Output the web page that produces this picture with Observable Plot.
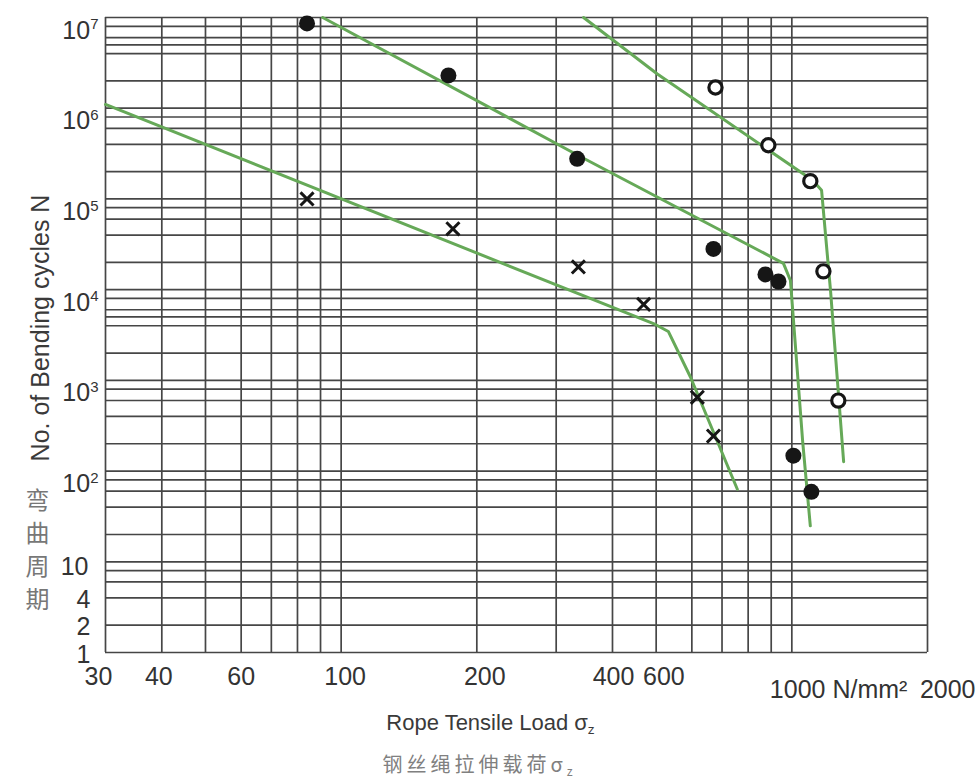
<!DOCTYPE html>
<html>
<head>
<meta charset="utf-8">
<script src="https://cdn.jsdelivr.net/npm/d3@7"></script>
<script src="https://cdn.jsdelivr.net/npm/@observablehq/plot@0.6"></script>
<style>
  body { margin: 0; background: #fff; }
  #chart svg { display: block; }
</style>
</head>
<body>
<div id="chart"></div>
<script>
// ---------- data ----------
const xGrid = [30, 40, 50, 60, 70, 80, 90, 100, 200, 300, 400, 500, 600, 700, 800, 900, 1000, 2000];
const yGrid = [1, 2, 4, 6, 8, 10, 20, 40, 60, 80, 100, 200, 400, 600, 800,
               1000, 2000, 4000, 5000, 6000, 8000, 1e4, 2e4, 4e4, 6e4, 8e4,
               1e5, 2e5, 4e5, 6e5, 8e5, 1e6, 2e6, 4e6, 5e6, 6e6, 8e6, 1e7];

const xTicksMain = [30, 40, 60, 100, 200, 400, 600];
const yTicksPow = [1e2, 1e3, 1e4, 1e5, 1e6, 1e7];
const yTicksSmall = [1, 2, 4];
const yTickTen = [10];

const xTitle = "Rope Tensile Load σz";
const xTitleCN = "钢丝绳拉伸载荷σz";
const yTitle = "No. of Bending cycles N";
const yTitleCN = "弯\n曲\n周\n期";

// filled circles
const filledLoad   = [84, 173, 334, 670, 874, 934, 1008, 1105];
const filledCycles = [8.6e6, 2.3e6, 2.77e5, 2.81e4, 1.47e4, 1.23e4, 148, 59];
// open circles
const openLoad   = [677, 887, 1099, 1175, 1268];
const openCycles = [1.69e6, 3.91e5, 1.57e5, 1.59e4, 598];
// crosses
const crossLoad   = [84, 177, 336, 469, 617, 670];
const crossCycles = [1.0e5, 4.68e4, 1.78e4, 6870, 650, 243];

// green fitted curves
const lineALoad   = [30, 498, 532, 596, 757];
const lineACycles = [1.1e6, 4130, 3460, 1082, 63];
const lineBLoad   = [91, 340, 958, 993, 1057, 1099];
const lineBCycles = [1e7, 2.92e5, 1.95e4, 1.26e4, 211, 24.9];
const lineCLoad   = [345, 503, 1112, 1164, 1219, 1303];
const lineCCycles = [1e7, 2.38e6, 1.61e5, 1.25e5, 9550, 127];

// ---------- helpers ----------
const zip = (xs, ys) => xs.map((x, i) => ({x, y: ys[i]}));
const powFmt = d => "10^" + Math.round(Math.log10(d));
const plainFmt = d => String(d);

const gridColor = "#464646";
const green = "#66a958";
const ink = "#161616";
const textColor = "#333";

// label nudges (layout only)
const xNudge = [-7, -3, 0, 4, 8, 1, -28];
const xLabelOpts = {x: d => d, text: plainFmt, frameAnchor: "bottom", lineAnchor: "top", textAnchor: "middle",
                    dy: 15, fontSize: 25, fill: textColor};
const yLabelOpts = {y: d => d, text: plainFmt, frameAnchor: "left", lineAnchor: "middle", textAnchor: "end",
                    fontSize: 25, fill: textColor};

const chart = Plot.plot({
  width: 976,
  height: 783,
  marginLeft: 105,
  marginRight: 49,
  marginTop: 17,
  marginBottom: 131,
  x: {type: "log", domain: [30, 2000], axis: null},
  y: {type: "log", domain: [1, 1e7], axis: null},
  style: {fontFamily: "'Liberation Sans', Arial, Helvetica, sans-serif", background: "#fff", color: textColor},
  marks: [
    Plot.ruleX(xGrid, {stroke: gridColor, strokeWidth: 1.7}),
    Plot.ruleY(yGrid, {stroke: gridColor, strokeWidth: 1.7}),

    Plot.line(zip(lineALoad, lineACycles), {x: "x", y: "y", stroke: green, strokeWidth: 3}),
    Plot.line(zip(lineBLoad, lineBCycles), {x: "x", y: "y", stroke: green, strokeWidth: 3}),
    Plot.line(zip(lineCLoad, lineCCycles), {x: "x", y: "y", stroke: green, strokeWidth: 3}),

    Plot.dot(zip(filledLoad, filledCycles), {x: "x", y: "y", r: 8, fill: ink, stroke: "none"}),
    Plot.dot(zip(openLoad, openCycles), {x: "x", y: "y", r: 6.6, fill: "#fff", stroke: ink, strokeWidth: 3.2}),
    Plot.dot(zip(crossLoad, crossCycles), {x: "x", y: "y", r: 6, symbol: "times", stroke: ink, strokeWidth: 3}),

    // x tick labels
    ...xTicksMain.map((t, i) => Plot.text([t], {...xLabelOpts, dx: xNudge[i]})),
    Plot.text([1000], {...xLabelOpts, dy: 28, dx: -22, textAnchor: "start", text: d => d + " N/mm²"}),
    Plot.text([2000], {...xLabelOpts, dy: 28, dx: 48, textAnchor: "end"}),

    // y tick labels
    Plot.text(yTicksPow, {...yLabelOpts, text: powFmt, dx: -7, dy: 13}),
    Plot.text(yTickTen, {...yLabelOpts, dx: -17, dy: 5}),
    Plot.text(yTicksSmall, {...yLabelOpts, dx: -15, dy: 2}),

    // titles
    Plot.text([yTitle], {text: d => d, frameAnchor: "left", textAnchor: "middle", lineAnchor: "middle", rotate: -90,
      fontSize: 25, dx: -65, dy: -7, fill: "#3a3a3a"}),
    Plot.text([yTitleCN], {text: d => d, frameAnchor: "left", textAnchor: "middle", lineAnchor: "middle",
      fontSize: 24, lineHeight: 1.38, dx: -68, dy: 213, fill: "#777",
      fontFamily: "'Noto Sans CJK SC', sans-serif"}),
    Plot.text([xTitle], {text: d => d, frameAnchor: "bottom", textAnchor: "middle", lineAnchor: "middle",
      fontSize: 22, dx: -26, dy: 70, fill: "#3a3a3a"}),
    Plot.text([xTitleCN], {text: d => d, frameAnchor: "bottom", textAnchor: "middle", lineAnchor: "middle",
      fontSize: 20, dx: -37, dy: 113, fill: "#808080",
      fontFamily: "'Noto Sans CJK SC', sans-serif"})
  ]
});

// real superscripts / subscripts as tspans
d3.select(chart).selectAll("text").each(function () {
  const t = this.textContent;
  const sel = d3.select(this);
  if (t === xTitle || t === xTitleCN) {
    this.textContent = "";
    sel.append("tspan").text(t.slice(0, -1));
    sel.append("tspan").attr("font-size", "0.62em").attr("dy", "0.32em").text("z");
    if (t === xTitleCN) sel.attr("letter-spacing", 4);
  } else if (/^10\^\d$/.test(t)) {
    this.textContent = "";
    sel.append("tspan").text("10");
    sel.append("tspan").attr("font-size", "0.6em").attr("dy", "-0.62em").text(t.slice(3));
  }
});

document.getElementById("chart").appendChild(chart);
</script>
</body>
</html>
